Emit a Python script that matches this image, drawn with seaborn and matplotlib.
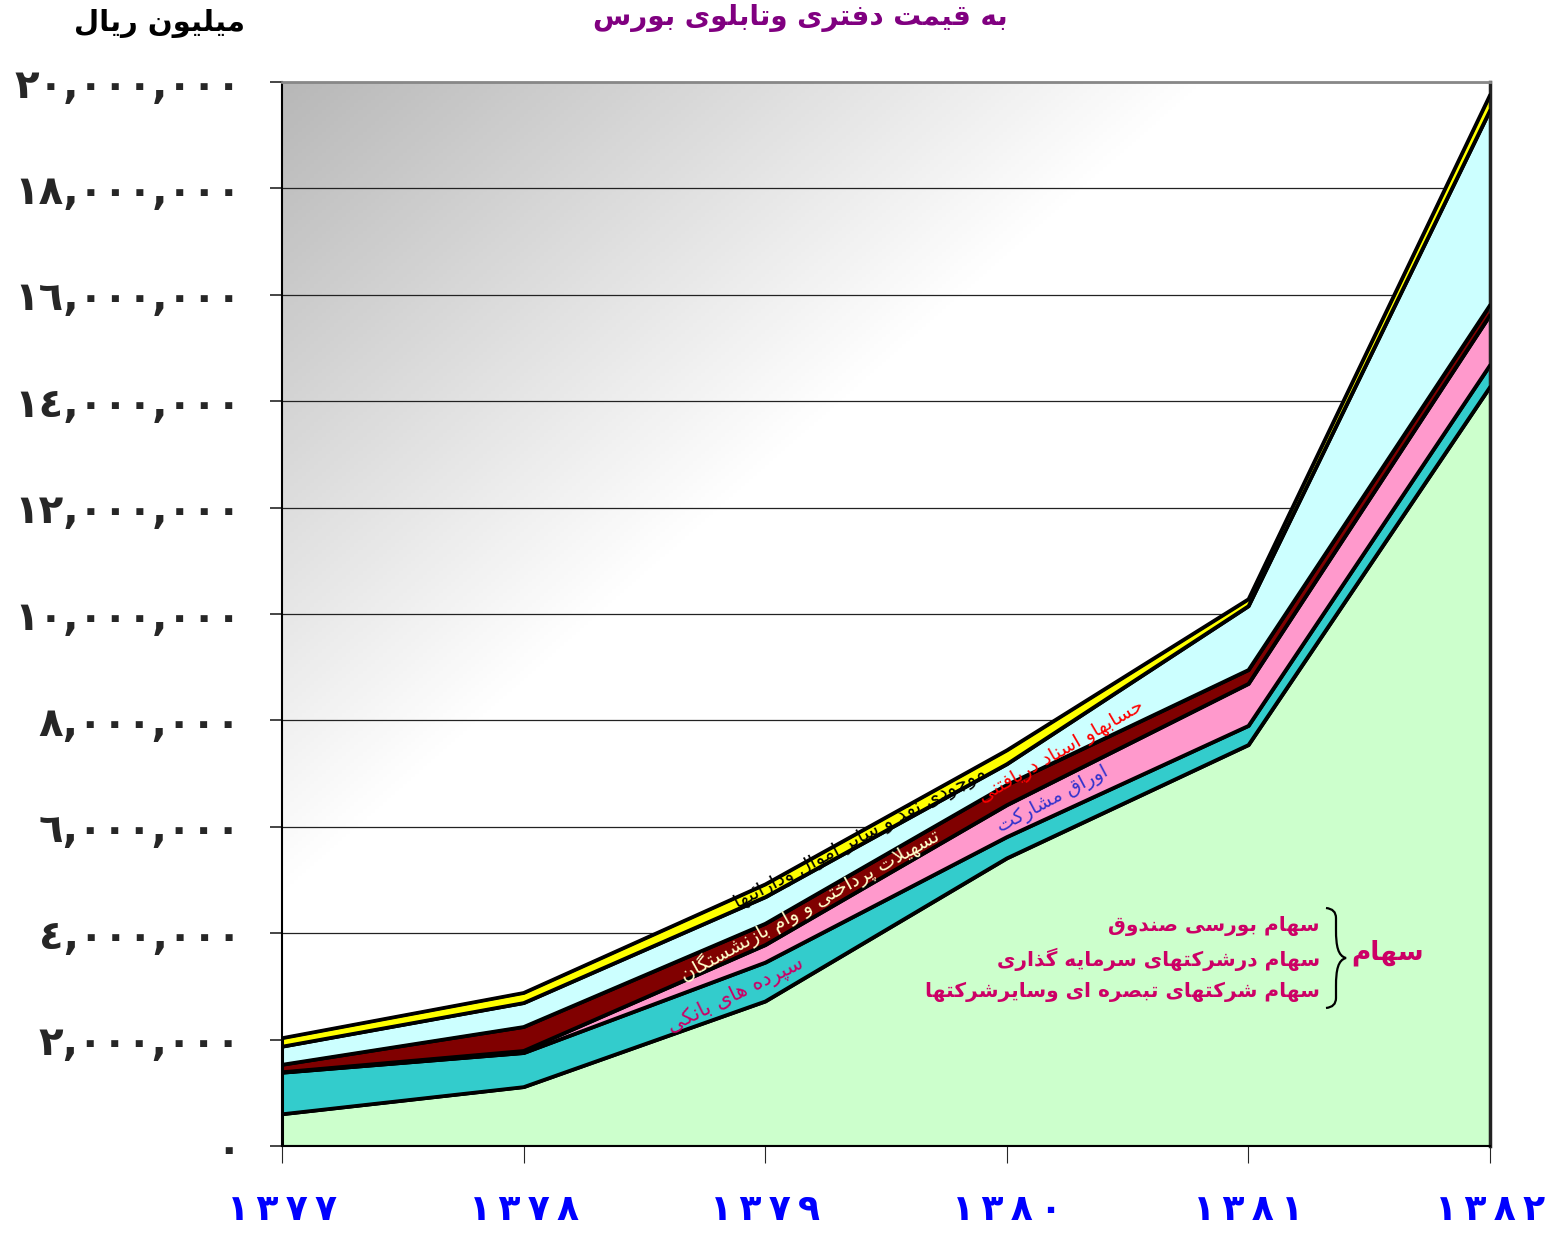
import matplotlib
matplotlib.use("Agg")
import matplotlib.pyplot as plt
from matplotlib.path import Path
from matplotlib.patches import PathPatch
import seaborn as sns
import pandas as pd
import numpy as np

# =========================
# Fund assets (book value & market value), million rials
# =========================

years = ['١٣٧٧', '١٣٧٨', '١٣٧٩', '١٣٨٠', '١٣٨١', '١٣٨٢']
stocks = [600000, 1110000, 2720000, 5410000, 7540000, 14270000]
deposits = [780000, 640000, 730000, 400000, 360000, 410000]
bonds = [10000, 40000, 330000, 600000, 790000, 940000]
loans = [140000, 450000, 400000, 380000, 260000, 190000]
receivables = [340000, 450000, 500000, 390000, 1200000, 3660000]
cash = [160000, 190000, 240000, 260000, 130000, 290000]

layer_colors = ['#CCFFCC', '#33CCCC', '#FF99CC', '#800000', '#CCFFFF', '#FFFF00']
yticks = list(range(0, 20000001, 2000000))
ytick_labels = ['٠', '٢,٠٠٠,٠٠٠', '٤,٠٠٠,٠٠٠', '٦,٠٠٠,٠٠٠', '٨,٠٠٠,٠٠٠', '١٠,٠٠٠,٠٠٠',
                '١٢,٠٠٠,٠٠٠', '١٤,٠٠٠,٠٠٠', '١٦,٠٠٠,٠٠٠', '١٨,٠٠٠,٠٠٠', '٢٠,٠٠٠,٠٠٠']

title = 'به قیمت دفتری وتابلوی بورس'
unit = 'میلیون ریال'
lbl_cash = 'موجودی نقد و سایر اموال ودارائیها'
lbl_recv = 'حسابهاو اسناد دریافتنی'
lbl_loans = 'تسهیلات پرداختی و وام بازنشستگان'
lbl_bonds = 'اوراق مشارکت'
lbl_dep = 'سپرده های بانکی'
lbl_stock_lines = ['سهام بورسی صندوق', 'سهام درشرکتهای سرمایه گذاری', 'سهام شرکتهای تبصره ای وسایرشرکتها']
lbl_stock = 'سهام'

# --- minimal Arabic/Persian shaping (matplotlib has no complex text layout) ---
FORMS = {
    'ا': ('\uFE8D', '\uFE8E', None, None), 'آ': ('\uFE81', '\uFE82', None, None),
    'ب': ('\uFE8F', '\uFE90', '\uFE91', '\uFE92'), 'پ': ('\uFB56', '\uFB57', '\uFB58', '\uFB59'),
    'ت': ('\uFE95', '\uFE96', '\uFE97', '\uFE98'), 'ث': ('\uFE99', '\uFE9A', '\uFE9B', '\uFE9C'),
    'ج': ('\uFE9D', '\uFE9E', '\uFE9F', '\uFEA0'), 'چ': ('\uFB7A', '\uFB7B', '\uFB7C', '\uFB7D'),
    'ح': ('\uFEA1', '\uFEA2', '\uFEA3', '\uFEA4'), 'خ': ('\uFEA5', '\uFEA6', '\uFEA7', '\uFEA8'),
    'د': ('\uFEA9', '\uFEAA', None, None), 'ذ': ('\uFEAB', '\uFEAC', None, None),
    'ر': ('\uFEAD', '\uFEAE', None, None), 'ز': ('\uFEAF', '\uFEB0', None, None),
    'ژ': ('\uFB8A', '\uFB8B', None, None),
    'س': ('\uFEB1', '\uFEB2', '\uFEB3', '\uFEB4'), 'ش': ('\uFEB5', '\uFEB6', '\uFEB7', '\uFEB8'),
    'ص': ('\uFEB9', '\uFEBA', '\uFEBB', '\uFEBC'), 'ض': ('\uFEBD', '\uFEBE', '\uFEBF', '\uFEC0'),
    'ط': ('\uFEC1', '\uFEC2', '\uFEC3', '\uFEC4'), 'ظ': ('\uFEC5', '\uFEC6', '\uFEC7', '\uFEC8'),
    'ع': ('\uFEC9', '\uFECA', '\uFECB', '\uFECC'), 'غ': ('\uFECD', '\uFECE', '\uFECF', '\uFED0'),
    'ف': ('\uFED1', '\uFED2', '\uFED3', '\uFED4'), 'ق': ('\uFED5', '\uFED6', '\uFED7', '\uFED8'),
    'ک': ('\uFB8E', '\uFB8F', '\uFB90', '\uFB91'), 'گ': ('\uFB92', '\uFB93', '\uFB94', '\uFB95'),
    'ل': ('\uFEDD', '\uFEDE', '\uFEDF', '\uFEE0'), 'م': ('\uFEE1', '\uFEE2', '\uFEE3', '\uFEE4'),
    'ن': ('\uFEE5', '\uFEE6', '\uFEE7', '\uFEE8'), 'ه': ('\uFEE9', '\uFEEA', '\uFEEB', '\uFEEC'),
    'و': ('\uFEED', '\uFEEE', None, None), 'ی': ('\uFBFC', '\uFBFD', '\uFBFE', '\uFBFF'),
    'ئ': ('\uFE89', '\uFE8A', '\uFE8B', '\uFE8C'),
}


def shape(txt):
    out = []
    i = 0
    n = len(txt)
    while i < n:
        c = txt[i]
        if c not in FORMS:
            out.append(c)
            i += 1
            continue
        prev = txt[i - 1] if i > 0 else ''
        joins_prev = prev in FORMS and FORMS[prev][2] is not None
        nxt = txt[i + 1] if i + 1 < n else ''
        if c == 'ل' and nxt in ('ا', 'آ'):
            lig = ('\uFEFB', '\uFEFC') if nxt == 'ا' else ('\uFEF5', '\uFEF6')
            out.append(lig[1] if joins_prev else lig[0])
            i += 2
            continue
        joins_next = FORMS[c][2] is not None and nxt in FORMS
        iso, fin, ini, med = FORMS[c]
        if joins_prev and joins_next:
            out.append(med)
        elif joins_prev:
            out.append(fin)
        elif joins_next:
            out.append(ini)
        else:
            out.append(iso)
        i += 1
    return ''.join(out)[::-1]


sns.set_style('white')
plt.rcParams['font.family'] = ['DejaVu Sans']

W, H = 1554, 1235
fig = plt.figure(figsize=(W / 100, H / 100), dpi=100)
ax = fig.add_axes([282 / W, 1 - 1146 / H, (1490 - 282) / W, (1146 - 82) / H])

# gradient background (grey top-left to white)
gx, gy = np.meshgrid(np.linspace(0, 1, 300), np.linspace(1, 0, 300))
t = np.clip(((gx + (1 - gy)) / 2) / 0.38, 0, 1)
shade = 0.72 + 0.28 * t
ax.imshow(np.dstack([shade, shade, shade]), extent=[0, 1, 0, 1], transform=ax.transAxes,
          aspect='auto', zorder=0)

x = np.arange(len(years))
layers = [stocks, deposits, bonds, loans, receivables, cash]
for yv in yticks[1:]:
    ax.axhline(yv, color='#222222', lw=0.9, zorder=1)

ax.stackplot(x, *layers, colors=layer_colors, edgecolor='black', linewidth=2.2, zorder=2)

df = pd.DataFrame({'x': x})
cum = np.cumsum(np.array(layers), axis=0)
for k in range(len(layers)):
    df['top'] = cum[k]
    sns.lineplot(data=df, x='x', y='top', color='black', lw=2.4, ax=ax, zorder=3)

ax.set_xlim(0, 5)
ax.set_ylim(0, 20000000)
ax.set_xlabel('')
ax.set_ylabel('')
ax.set_yticks(yticks)
ax.set_yticklabels(ytick_labels, fontsize=29, fontweight='bold')
ax.set_xticks(x)
ax.set_xticklabels(['\u2009'.join(y) for y in years], fontsize=26, fontweight='bold', color='#0000FF')
ax.tick_params(axis='y', direction='out', length=8.6, width=1.2, pad=21, left=True)
ax.tick_params(axis='x', direction='out', length=12, width=0.8, pad=22, bottom=True)
for s in ['left', 'bottom']:
    ax.spines[s].set_color('black')
    ax.spines[s].set_linewidth(1.5)
ax.spines['top'].set_color('#888888')
ax.spines['top'].set_linewidth(2)
ax.spines['right'].set_color('#222222')
ax.spines['right'].set_linewidth(2.5)

# titles
fig.text(800 / W, 1 - 18 / H, shape(title), ha='center', va='center', fontsize=20,
         fontweight='bold', color='#800080')
fig.text(160 / W, 1 - 24 / H, shape(unit), ha='center', va='center', fontsize=21,
         fontweight='bold', color='black')


def ptext(px, py, s, **kw):
    fig.text(px / W, 1 - py / H, shape(s), ha='center', va='center', **kw)


ptext(860, 838, lbl_cash, rotation=28, fontsize=14, color='black')
ptext(1062, 752, lbl_recv, rotation=30, fontsize=14, color='#FF0000')
ptext(810, 905, lbl_loans, rotation=29, fontsize=14, color='#FFFFCC')
ptext(1053, 800, lbl_bonds, rotation=28, fontsize=14, color='#3333CC')
ptext(735, 995, lbl_dep, rotation=26, fontsize=15, color='#CC0066')

for j, line in enumerate(lbl_stock_lines):
    fig.text(1320 / W, 1 - (926 + 33 * j) / H, shape(line), ha='right', va='center',
             fontsize=14.5, fontweight='bold', color='#CC0066')

# curly brace drawn as a path (pixel coords -> figure fraction)
verts = [(1326, 908), (1336, 909), (1336, 918), (1336, 930),
         (1336, 946), (1338, 956), (1346, 958),
         (1338, 960), (1336, 970), (1336, 986),
         (1336, 998), (1336, 1007), (1326, 1008)]
codes = [Path.MOVETO, Path.CURVE3, Path.CURVE3, Path.LINETO,
         Path.CURVE4, Path.CURVE4, Path.CURVE4,
         Path.CURVE4, Path.CURVE4, Path.CURVE4,
         Path.LINETO, Path.CURVE3, Path.CURVE3]
brace = Path([(vx / W, 1 - vy / H) for vx, vy in verts], codes)
fig.add_artist(PathPatch(brace, transform=fig.transFigure, fill=False, lw=1.6, color='black'))

fig.text(1388 / W, 1 - 953 / H, shape(lbl_stock), ha='center', va='center', fontsize=19,
         fontweight='bold', color='#CC0066')

fig.savefig('out.png', dpi=100)
plt.close(fig)
